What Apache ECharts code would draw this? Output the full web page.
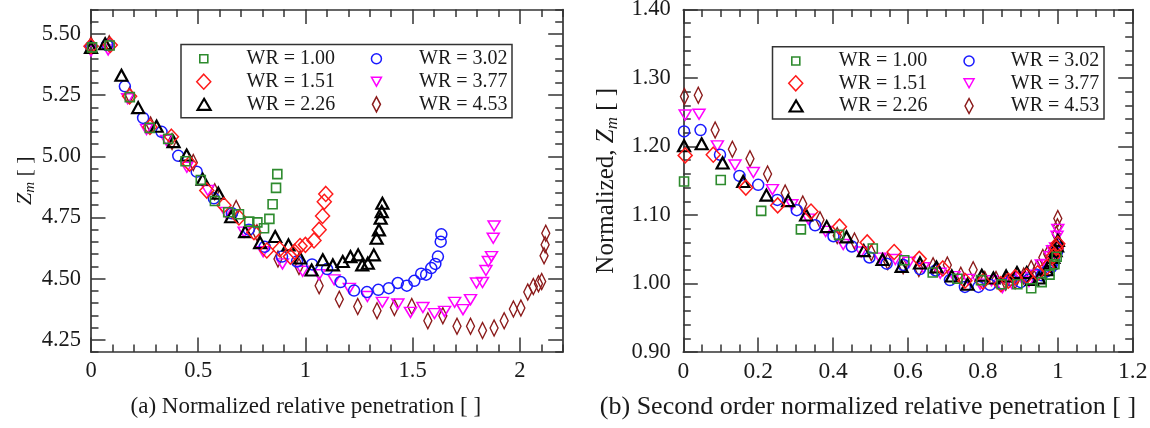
<!DOCTYPE html>
<html><head><meta charset="utf-8">
<script src="https://cdn.jsdelivr.net/npm/echarts@6/dist/echarts.min.js"></script>
<style>html,body{margin:0;padding:0;background:#fff}#c{width:1150px;height:428px}</style>
</head><body><div id="c"></div>
<script>
// ---------- DATA ----------
const seriesNames = ['WR = 1.00','WR = 1.51','WR = 2.26','WR = 3.02','WR = 3.77','WR = 4.53'];

// (a) Normalized relative penetration vs Z_m
const a_wr100 = [[0.005,5.445],[0.087,5.453],[0.181,5.242],[0.274,5.116],[0.360,5.071],[0.441,4.980],[0.512,4.903],[0.578,4.817],[0.640,4.771],[0.690,4.763],[0.738,4.733],[0.776,4.730],[0.807,4.706],[0.832,4.744],[0.847,4.804],[0.863,4.871],[0.869,4.927]];
const a_wr151 = [[0,5.45],[0.09,5.455],[0.18,5.245],[0.275,5.12],[0.375,5.08],[0.46,4.97],[0.54,4.86],[0.62,4.80],[0.69,4.75],[0.76,4.69],[0.82,4.615],[0.88,4.62],[0.93,4.59],[0.95,4.61],[0.975,4.633],[1.0,4.638],[1.04,4.656],[1.064,4.70],[1.08,4.756],[1.088,4.814],[1.095,4.846]];
const a_wr226 = [[0,5.445],[0.066,5.46],[0.142,5.331],[0.220,5.199],[0.306,5.123],[0.385,5.06],[0.446,5.005],[0.521,4.906],[0.594,4.849],[0.654,4.753],[0.719,4.692],[0.789,4.647],[0.859,4.672],[0.921,4.638],[0.975,4.584],[1.029,4.535],[1.081,4.577],[1.128,4.556],[1.174,4.570],[1.210,4.590],[1.246,4.597],[1.265,4.556],[1.291,4.563],[1.319,4.597],[1.332,4.665],[1.343,4.699],[1.351,4.747],[1.356,4.774],[1.359,4.808]];
const a_wr302 = [[0,5.447],[0.075,5.455],[0.158,5.286],[0.243,5.157],[0.329,5.10],[0.407,5.002],[0.493,4.937],[0.573,4.828],[0.657,4.767],[0.736,4.70],[0.81,4.63],[0.891,4.59],[0.961,4.57],[1.031,4.558],[1.101,4.539],[1.164,4.486],[1.227,4.451],[1.287,4.445],[1.340,4.454],[1.389,4.461],[1.431,4.482],[1.473,4.471],[1.508,4.491],[1.540,4.520],[1.563,4.516],[1.587,4.543],[1.606,4.560],[1.618,4.590],[1.631,4.651],[1.634,4.681]];
const a_wr377 = [[0,5.43],[0.08,5.435],[0.171,5.235],[0.259,5.11],[0.352,5.065],[0.447,4.955],[0.545,4.86],[0.628,4.77],[0.714,4.69],[0.803,4.61],[0.893,4.56],[0.987,4.53],[1.064,4.516],[1.134,4.495],[1.205,4.46],[1.289,4.427],[1.359,4.403],[1.431,4.396],[1.490,4.362],[1.548,4.382],[1.602,4.357],[1.649,4.366],[1.696,4.403],[1.735,4.373],[1.770,4.414],[1.798,4.482],[1.826,4.484],[1.842,4.533],[1.853,4.570],[1.868,4.590],[1.876,4.665],[1.880,4.715]];
const a_wr453 = [[0,5.455],[0.085,5.46],[0.18,5.25],[0.278,5.128],[0.378,5.06],[0.477,4.975],[0.577,4.855],[0.677,4.787],[0.774,4.687],[0.872,4.58],[0.970,4.549],[1.064,4.471],[1.158,4.416],[1.244,4.386],[1.334,4.369],[1.415,4.382],[1.496,4.386],[1.571,4.328],[1.641,4.348],[1.707,4.305],[1.770,4.305],[1.826,4.288],[1.880,4.298],[1.927,4.328],[1.970,4.376],[2.005,4.380],[2.037,4.445],[2.063,4.468],[2.087,4.479],[2.102,4.488],[2.113,4.593],[2.118,4.638],[2.121,4.685]];

// (b) Second order normalized relative penetration vs normalized Z_m
const b_wr100 = [[0.002,1.149],[0.100,1.151],[0.208,1.106],[0.314,1.079],[0.416,1.071],[0.506,1.051],[0.590,1.034],[0.666,1.016],[0.732,1.007],[0.795,1.005],[0.850,0.999],[0.892,0.999],[0.929,0.993],[0.957,1.002],[0.978,1.013],[0.991,1.028],[0.997,1.039]];
const b_wr151 = [[0.005,1.187],[0.080,1.188],[0.167,1.140],[0.252,1.114],[0.341,1.105],[0.417,1.083],[0.491,1.060],[0.563,1.046],[0.630,1.036],[0.693,1.022],[0.752,1.004],[0.800,1.003],[0.848,0.999],[0.868,1.004],[0.886,1.009],[0.917,1.011],[0.946,1.015],[0.971,1.024],[0.988,1.040],[0.996,1.052],[1.000,1.058]];
const b_wr226 = [[0.002,1.201],[0.049,1.204],[0.105,1.176],[0.160,1.149],[0.222,1.129],[0.280,1.121],[0.328,1.100],[0.383,1.083],[0.436,1.068],[0.482,1.048],[0.532,1.035],[0.583,1.025],[0.632,1.030],[0.676,1.024],[0.717,1.011],[0.759,0.999],[0.797,1.012],[0.828,1.008],[0.862,1.011],[0.891,1.016],[0.917,1.016],[0.931,1.006],[0.950,1.008],[0.971,1.020],[0.980,1.030],[0.988,1.038],[0.994,1.048],[0.998,1.055],[1.000,1.063]];
const b_wr302 = [[0.002,1.222],[0.046,1.224],[0.098,1.188],[0.150,1.157],[0.200,1.144],[0.251,1.122],[0.303,1.107],[0.352,1.085],[0.401,1.069],[0.450,1.054],[0.497,1.038],[0.543,1.029],[0.588,1.027],[0.632,1.021],[0.674,1.019],[0.712,1.005],[0.752,0.995],[0.788,0.995],[0.819,0.998],[0.850,1.000],[0.876,1.005],[0.901,1.002],[0.923,1.006],[0.942,1.013],[0.957,1.012],[0.971,1.018],[0.983,1.024],[0.990,1.033],[0.998,1.046],[1.000,1.053]];
const b_wr377 = [[0.005,1.246],[0.042,1.247],[0.091,1.201],[0.138,1.173],[0.187,1.162],[0.238,1.137],[0.290,1.115],[0.334,1.094],[0.380,1.076],[0.427,1.057],[0.475,1.046],[0.525,1.037],[0.566,1.035],[0.603,1.031],[0.641,1.023],[0.686,1.015],[0.723,1.010],[0.761,1.006],[0.793,0.999],[0.823,1.004],[0.852,0.994],[0.877,1.000],[0.902,1.009],[0.923,1.003],[0.941,1.012],[0.956,1.027],[0.971,1.028],[0.980,1.039],[0.986,1.048],[0.994,1.052],[0.998,1.069],[1.000,1.079]];
const b_wr453 = [[0.003,1.273],[0.040,1.275],[0.085,1.224],[0.131,1.196],[0.178,1.182],[0.225,1.160],[0.272,1.132],[0.319,1.116],[0.365,1.093],[0.411,1.070],[0.457,1.062],[0.502,1.045],[0.546,1.032],[0.587,1.026],[0.629,1.022],[0.667,1.026],[0.705,1.027],[0.741,1.012],[0.774,1.020],[0.805,1.006],[0.835,1.006],[0.861,1.002],[0.886,1.004],[0.909,1.011],[0.929,1.022],[0.945,1.022],[0.960,1.038],[0.973,1.043],[0.984,1.046],[0.991,1.048],[0.996,1.072],[0.999,1.083],[1.000,1.095]];

// tick values
const aMajorX = [0,0.5,1,1.5,2];
const aMajorY = [4.25,4.5,4.75,5.0,5.25,5.5];
const bMajorX = [0,0.2,0.4,0.6,0.8,1.0,1.2];
const bMajorY = [0.9,1.0,1.1,1.2,1.3,1.4];
const aTicksX = {min:0, max:2.2, minor:0.1, major:aMajorX};
const aTicksY = {min:4.2, max:5.6, minor:0.05, major:aMajorY};
const bTicksX = {min:0, max:1.2, minor:0.05, major:bMajorX};
const bTicksY = {min:0.9, max:1.4, minor:0.02, major:bMajorY};

const xNameA = '(a) Normalized relative penetration [ ]';
const xNameB = '(b) Second order normalized relative penetration [ ]';
const yNameA = '{z|Z}{s|m}{t| [ ]}';
const yNameB = '{t|Normalized, }{z|Z}{s|m}{t| [ ]}';

// ---------- STYLE ----------
const FONT = 'Liberation Serif';
const TXT = '#1a1a1a';
const AX = '#333';
const AXW = 1.7;
const styles = [
  {symbol:'rect', size:[9,9], lsize:[8,8], color:'#2E8B2E', bw:1.6},
  {symbol:'diamond', size:[14,15], lsize:[14,15], color:'#FF1A1A', bw:1.5},
  {symbol:'triangle', size:[12,11], lsize:[13,11], color:'#000000', bw:2.2},
  {symbol:'circle', size:[11,11], lsize:[10,10], color:'#1A1AFF', bw:1.5},
  {symbol:'path://M0,0L10,0L5,9Z', size:[12,10], lsize:[10,9], color:'#FF00FF', bw:1.5},
  {symbol:'diamond', size:[8,16], lsize:[8,15], color:'#8B1A1A', bw:1.5}
];
const aData = [a_wr100,a_wr151,a_wr226,a_wr302,a_wr377,a_wr453];
const bData = [b_wr100,b_wr151,b_wr226,b_wr302,b_wr377,b_wr453];

const grids = [
  {left:91, top:9.5, width:471.7, height:342.5, outerBoundsMode:'none', containLabel:false},
  {left:683.3, top:9.5, width:449.4, height:342.5, outerBoundsMode:'none', containLabel:false}
];

function richName(fs) {
  return {
    z:{fontFamily:FONT, fontStyle:'italic', fontSize:fs, lineHeight:fs+4, color:TXT},
    s:{fontFamily:FONT, fontStyle:'italic', fontSize:Math.round(fs*0.68), lineHeight:Math.round(fs*0.68), verticalAlign:'bottom', color:TXT},
    t:{fontFamily:FONT, fontSize:fs, lineHeight:fs+4, color:TXT}
  };
}

function makeAxes(dim, g, t, fmt, lab, nm) {
  const posA = dim === 'x' ? 'bottom' : 'left';
  const posB = dim === 'x' ? 'top' : 'right';
  const base = () => ({
    type:'value', gridIndex:g, min:t.min, max:t.max, interval:t.minor, silent:true,
    splitLine:{show:false},
    axisLine:{show:false, onZero:false, lineStyle:{color:AX, width:AXW}},
    axisTick:{show:true, inside:true, length:7.5, lineStyle:{color:AX, width:1.5}},
    axisLabel:{show:false},
    axisPointer:{show:false}
  });
  const main = base();
  main.position = posA;
  main.axisLine.show = true;
  main.axisTick = {show:true, inside:true, length:14.5, customValues:t.major, lineStyle:{color:AX, width:1.5}};
  main.axisLabel = {show:true, customValues:t.major, formatter:fmt, margin:lab.margin,
    fontFamily:FONT, fontSize:lab.size, color:TXT};
  main.name = nm.text; main.nameLocation = 'middle'; main.nameGap = nm.gap;
  main.nameTextStyle = {fontFamily:FONT, fontSize:nm.size, color:TXT, lineHeight:nm.size+4, padding:nm.pad, rich:richName(nm.size)};
  const minorA = base(); minorA.position = posA;
  const majorB = base(); majorB.position = posB;
  majorB.axisLine.show = true;
  majorB.axisTick = {show:true, inside:true, length:14.5, customValues:t.major, lineStyle:{color:AX, width:1.5}};
  const minorB = base(); minorB.position = posB;
  return [main, minorA, majorB, minorB];
}

const fmtPlain = v => String(Math.round(v*100)/100);
const fmt2 = v => (+v).toFixed(2);

const xAxes = [].concat(
  makeAxes('x', 0, aTicksX, fmtPlain, {size:22.5, margin:8}, {text:xNameA, gap:41, size:23, pad:[0,42,0,0]}),
  makeAxes('x', 1, bTicksX, fmtPlain, {size:23.5, margin:8}, {text:xNameB, gap:40, size:26, pad:[0,80,0,0]})
);
const yAxes = [].concat(
  makeAxes('y', 0, aTicksY, fmt2, {size:22.5, margin:10}, {text:yNameA, gap:52, size:22, pad:[0,0,0,0]}),
  makeAxes('y', 1, bTicksY, fmt2, {size:22.5, margin:12.5}, {text:yNameB, gap:62, size:25, pad:[0,0,0,0]})
);

// ---------- SERIES ----------
const series = [];
const order = [5,4,3,2,1,0];
[aData, bData].forEach((set, g) => {
  order.forEach(i => {
    const s = styles[i];
    series.push({
      type:'scatter', name:seriesNames[i], xAxisIndex:g*4, yAxisIndex:g*4,
      data:set[i], symbol:s.symbol, symbolSize:s.size, symbolKeepAspect:false,
      itemStyle:{color:'transparent', borderColor:s.color, borderWidth:s.bw, opacity:1},
      emphasis:{disabled:true}, silent:true, animation:false, z:2
    });
  });
});

// ---------- LEGENDS ----------
const legendLayout = [
  {rows:[58.7,81.7,104.3], icons:[203,375.7], texts:[245.7,418.3]},
  {rows:[61,83.3,106], icons:[795,968.3], texts:[838,1010]}
];
const legends = [];
legendLayout.forEach(L => {
  seriesNames.forEach((nm, i) => {
    const s = styles[i];
    const col = Math.floor(i/3), row = i%3;
    const W = s.lsize[0], H = s.lsize[1];
    const ic = L.icons[col];
    legends.push({
      show:true, selectedMode:false, orient:'vertical', padding:0,
      left: ic - W/2, top: L.rows[row] - 10,
      itemWidth:W, itemHeight:H, symbolKeepAspect:false,
      data:[{name:nm, icon:s.symbol}],
      itemStyle:{color:'transparent', borderColor:s.color, borderWidth:s.bw},
      textStyle:{fontFamily:FONT, fontSize:20, lineHeight:20, color:TXT,
        padding:[0,0,0, L.texts[col] - ic - W/2 - 5]}
    });
  });
});

const chart = echarts.init(document.getElementById('c'), null, {renderer:'canvas'});
chart.setOption({
  animation:false,
  backgroundColor:'#ffffff',
  textStyle:{fontFamily:FONT},
  grid:grids,
  xAxis:xAxes,
  yAxis:yAxes,
  legend:legends,
  series:series,
  graphic:[
    {type:'rect', silent:true, z:100, shape:{x:181, y:44.5, width:331, height:73.2}, style:{fill:'none', stroke:AX, lineWidth:1.5}},
    {type:'rect', silent:true, z:100, shape:{x:772.5, y:46.7, width:331.5, height:72.3}, style:{fill:'none', stroke:AX, lineWidth:1.5}}
  ]
});
</script></body></html>
